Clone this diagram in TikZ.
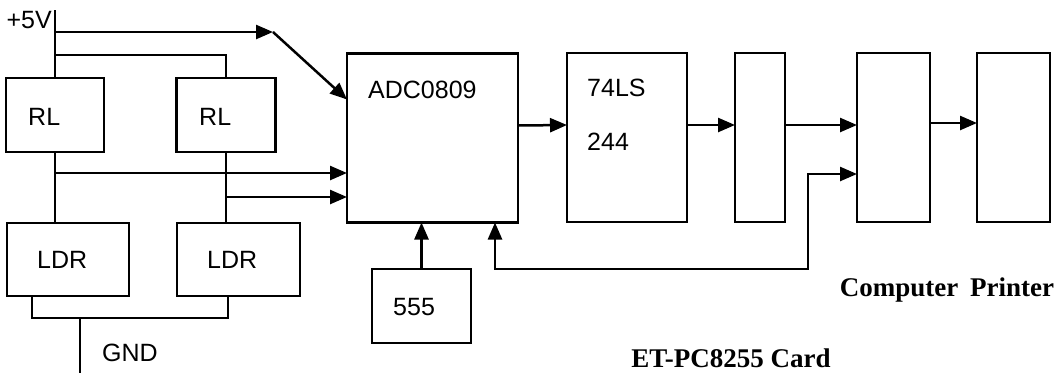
\documentclass[tikz,border=0pt]{standalone}
\usepackage{fontspec}
\setmainfont{Liberation Serif}
\setsansfont{Liberation Sans}
\usetikzlibrary{arrows.meta,calc}

\begin{document}
\begin{tikzpicture}[x=1pt,y=-1pt,
  blk/.style={draw,line width=2.8pt,inner sep=0pt,outer sep=0pt},
  txt/.style={font=\sffamily\fontsize{25}{29}\selectfont,inner sep=0pt,anchor=west},
  captxt/.style={font=\bfseries\fontsize{27}{32}\selectfont,inner sep=0pt,anchor=base},
  wire/.style={line width=2.5pt},
  arr/.style={wire,-{Triangle[length=17pt,width=14pt]}},
  dbl/.style={wire,{Triangle[length=17pt,width=14pt]}-{Triangle[length=17pt,width=14pt]}}]
  \useasboundingbox (0,0) rectangle (1063,373);
  % sensor branches
  \node[blk,minimum width=98pt,minimum height=74pt] (rl1) at (55,115) {};
  \node[blk,minimum width=99pt,minimum height=74pt] (rl2) at (226,115) {};
  \node[blk,minimum width=122pt,minimum height=73pt] (ldr1) at (68,259.5) {};
  \node[blk,minimum width=123pt,minimum height=73pt] (ldr2) at (238.5,259.5) {};
  \node[txt] at (28,117) {RL};
  \node[txt] at (199,117) {RL};
  \node[txt] at (37,260) {LDR};
  \node[txt] at (207,260) {LDR};
  % card chain
  \node[blk,minimum width=171pt,minimum height=169pt] (adc) at (432.5,138) {};
  \node[blk,minimum width=120pt,minimum height=169pt] (ls) at (627,137.5) {};
  \node[blk,minimum width=50pt,minimum height=169pt] (buf) at (760,137.5) {};
  \node[blk,minimum width=73pt,minimum height=169pt] (pc) at (893.5,137.5) {};
  \node[blk,minimum width=73pt,minimum height=169pt] (prn) at (1013.5,137.5) {};
  \node[blk,minimum width=99pt,minimum height=74pt] (clk) at (421.5,306) {};
  \node[txt] at (368,90) {ADC0809};
  \node[txt] at (587,88) {74LS};
  \node[txt] at (587,142) {244};
  \node[txt] at (393,307) {555};
  % supply and ground
  \node[txt,anchor=east] (vcc) at (52,20) {+5V};
  \node[txt] (gndl) at (102,353) {GND};
  \coordinate (vtop) at (55,10);
  \coordinate (k1) at (55,32);
  \coordinate (k2) at (55,55);
  \coordinate (kink) at (273,32);
  \coordinate (vin) at ($(adc.north west)+(0,46)$);
  \draw[wire] (vtop) -- (rl1.north);
  \draw[arr] (k1) -- (kink);
  \draw[arr] (kink) -- (vin);
  \draw[wire] (k2) -| (rl2.north);
  \draw[wire] (rl1.south) -- (rl1.south |- ldr1.north);
  \draw[wire] (rl2.south) -- (rl2.south |- ldr2.north);
  \coordinate (j1) at (55,173);
  \coordinate (j2) at (226,197);
  \draw[arr] (j1) -- (j1 -| adc.west);
  \draw[arr] (j2) -- (j2 -| adc.west);
  \coordinate (gl) at (32,318);
  \coordinate (gr) at (228,318);
  \coordinate (gnd) at (80,373);
  \draw[wire] (ldr1.south -| gl) -- (gl) -- (gr) -- (ldr2.south -| gr);
  \draw[wire] (gnd |- gl) -- (gnd);
  % data path
  \draw[arr] ($(adc.north east)+(0,72)$) -- ($(ls.north west)+(0,72)$);
  \draw[arr] ($(ls.north east)+(0,72)$) -- ($(buf.north west)+(0,72)$);
  \draw[arr] ($(buf.north east)+(0,72)$) -- ($(pc.north west)+(0,72)$);
  \draw[arr] ($(pc.north east)+(0,70)$) -- ($(prn.north west)+(0,70)$);
  \draw[arr] (clk.north) -- (clk.north |- adc.south);
  \coordinate (fba) at ($(adc.south east)+(-23,0)$);
  \coordinate (fbk) at (808,269);
  \coordinate (pcin) at ($(pc.north west)+(0,121)$);
  \draw[dbl] (fba) |- (fbk) |- (pcin);
  % captions
  \node[captxt] (pclbl) at (899,296) {Computer};
  \node[captxt] (prnlbl) at (1012,296) {Printer};
  \node[captxt] (card) at (731,367) {ET-PC8255 Card};
\end{tikzpicture}
\end{document}
